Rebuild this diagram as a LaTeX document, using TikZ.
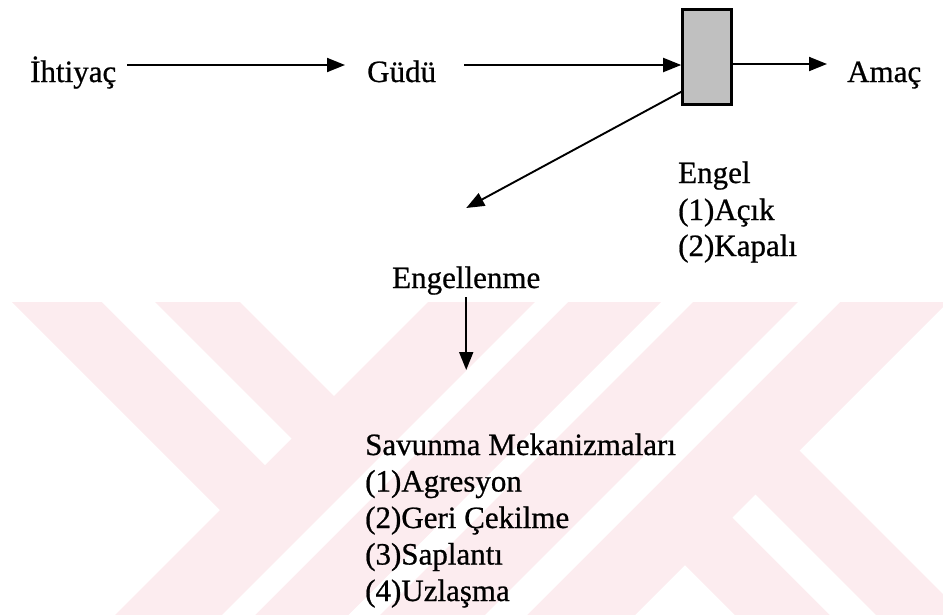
\documentclass[tikz,border=0pt]{standalone}
\usepackage{fontspec}
\setmainfont{Liberation Serif}[FakeBold=0.7]
\usetikzlibrary{arrows.meta,calc}
\definecolor{wmpink}{RGB}{252,236,239}
\definecolor{boxgray}{RGB}{192,192,192}
\begin{document}
\begin{tikzpicture}[x=1pt,y=-1pt,
  lbl/.style={font=\fontsize{31}{36}\selectfont, inner sep=0pt, anchor=base west},
  arr/.style={line width=1.9pt, -{Triangle[length=18pt,width=14pt]}},
  wm/.style={fill=wmpink, draw=none},
  wmgap/.style={fill=white, draw=none},
  barrier/.style={draw, line width=2.6pt, fill=boxgray, minimum width=49pt, minimum height=95pt, inner sep=0pt}]
\useasboundingbox (0,0) rectangle (943,614);
% watermark
\begin{scope}
  \clip (0,302) rectangle (943,614);
  \fill[wm] (12,302) -- (240,302) -- (450.5,512.5) -- (336.5,626.5) -- cycle;
  \fill[wm] (428,302) -- (661,302) -- (343,620) -- (110,620) -- cycle;
  \fill[wm] (705,290) -- (960,290) -- (630,620) -- (375,620) -- cycle;
  \fill[wm] (660,540) -- (774.5,425.5) -- (969,620) -- (740,620) -- cycle;
  \fill[wmgap] (90,290) -- (143,290) -- (291.5,438.5) -- (265,465) -- cycle;
  \fill[wmgap] (547,290) -- (580,290) -- (250,620) -- (217,620) -- cycle;
  \fill[wmgap] (810,290) -- (852,290) -- (522,620) -- (480,620) -- cycle;
  \fill[wmgap] (732.5,517.5) -- (755.5,494.5) -- (881,620) -- (835,620) -- cycle;
\end{scope}
% nodes
\node[lbl] (ihtiyac) at (30,82) {İhtiyaç};
\node[lbl] (gudu) at (367,82) {Güdü};
\node[lbl] (amac) at (847,82) {Amaç};
\node[barrier] (engelbox) at (707,57) {};
\node[lbl] (engel0) at (678,183) {Engel};
\node[lbl] (engel1) at (678,220) {(1)Açık};
\node[lbl] (engel2) at (678,256) {(2)Kapalı};
\node[lbl] (engellenme) at (392,288) {Engellenme};
\node[lbl] (sav0) at (365,455) {Savunma Mekanizmaları};
\node[lbl] (sav1) at (365,491.5) {(1)Agresyon};
\node[lbl] (sav2) at (365,528) {(2)Geri Çekilme};
\node[lbl] (sav3) at (365,564.5) {(3)Saplantı};
\node[lbl] (sav4) at (365,601) {(4)Uzlaşma};
% connectors
\draw[arr] ([shift={(11pt,17pt)}]ihtiyac.base east) -- ([shift={(-22pt,17pt)}]gudu.base west);
\draw[arr] ([shift={(28pt,17pt)}]gudu.base east) -- ([yshift=-8pt]engelbox.west);
\draw[arr] ([yshift=-7pt]engelbox.east) -- ([shift={(-20pt,18pt)}]amac.base west);
\draw[arr] ([yshift=14pt]engelbox.south west) -- ([yshift=80pt]engellenme.base);
\draw[arr] ([yshift=-9pt]engellenme.base) -- ([yshift=-82pt]engellenme.base);
\end{tikzpicture}
\end{document}
